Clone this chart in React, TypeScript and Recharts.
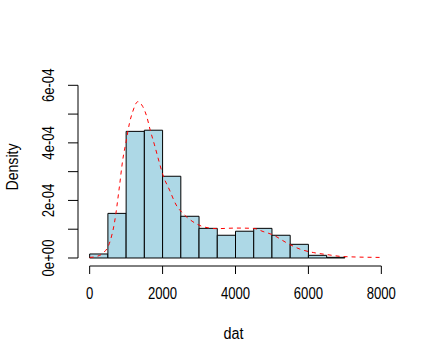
import {
  ComposedChart,
  Line,
  XAxis,
  YAxis,
  ReferenceArea,
  ReferenceLine,
} from "recharts";

// histogram bins (width 500) and their densities
const binStarts = [0, 500, 1000, 1500, 2000, 2500, 3000, 3500, 4000, 4500, 5000, 5500, 6000, 6500];
const binWidth = 500;
const binDensity = [
  1.4e-5, 1.55e-4, 4.4e-4, 4.44e-4, 2.84e-4, 1.45e-4, 1.03e-4, 0.79e-4, 0.93e-4, 1.03e-4,
  0.79e-4, 0.475e-4, 0.093e-4, 0.023e-4,
];

// kernel density estimate
const densX = [
  0, 174, 357, 541, 678, 816, 907, 999, 1091, 1182, 1320, 1457, 1567, 1659, 1778, 1916, 2007,
  2191, 2374, 2557, 2832, 3107, 3474, 4024, 4482, 4757, 5032, 5399, 5765, 6132, 6499, 6957, 7965,
];
const densY = [
  0.02e-4, 0.05e-4, 0.16e-4, 0.51e-4, 1.21e-4, 2.48e-4, 3.41e-4, 4.04e-4, 4.68e-4, 5.09e-4,
  5.43e-4, 5.26e-4, 4.91e-4, 4.45e-4, 3.93e-4, 3.29e-4, 2.89e-4, 2.36e-4, 1.84e-4, 1.55e-4,
  1.26e-4, 1.09e-4, 1.02e-4, 1.04e-4, 1.03e-4, 0.92e-4, 0.8e-4, 0.53e-4, 0.31e-4, 0.19e-4,
  0.12e-4, 0.05e-4, 0.02e-4,
];

const xTicks = [0, 2000, 4000, 6000, 8000];
const yTicks = [0, 1e-4, 2e-4, 3e-4, 4e-4, 5e-4, 6e-4];
const yTickLabels = ["0e+00", "", "2e-04", "", "4e-04", "", "6e-04"];

const X_DOMAIN: [number, number] = [-320, 8320];
const Y_DOMAIN: [number, number] = [-0.278e-4, 6.254e-4];

const FONT = "'Liberation Sans', Arial, sans-serif";
const FS = 16;

// the reference uses a narrow font; squeeze Liberation Sans to its width
const charW: Record<string, number> = { "+": 0.584, "-": 0.333 };
const narrowLen = (s: string) =>
  s.split("").reduce((w, c) => w + (charW[c] ?? 0.556), 0) * 0.82 * FS;

const curve = densX.map((x, i) => ({ x, y: densY[i] }));

const XTick = (props: any) => {
  const { x, y, payload } = props;
  const s = String(payload.value);
  return (
    <text
      x={x}
      y={y + 25}
      textAnchor="middle"
      fontFamily={FONT}
      fontSize={FS}
      fill="#000"
      textLength={narrowLen(s)}
      lengthAdjust="spacingAndGlyphs"
    >
      {s}
    </text>
  );
};

const YTick = (props: any) => {
  const { x, y, index } = props;
  const label = yTickLabels[index];
  if (!label) return null;
  const cx = x - 19;
  return (
    <text
      x={cx}
      y={y}
      transform={`rotate(-90, ${cx}, ${y})`}
      textAnchor="middle"
      dominantBaseline="central"
      fontFamily={FONT}
      fontSize={FS}
      fill="#000"
      textLength={narrowLen(label)}
      lengthAdjust="spacingAndGlyphs"
    >
      {label}
    </text>
  );
};

const XLabel = (props: any) => {
  const vb = props.viewBox;
  return (
    <text
      x={vb.x + vb.width / 2 - 2}
      y={vb.y + 73}
      textAnchor="middle"
      fontFamily={FONT}
      fontSize={FS}
      fill="#000"
      textLength={20}
      lengthAdjust="spacingAndGlyphs"
    >
      dat
    </text>
  );
};

const YLabel = (props: any) => {
  const vb = props.viewBox;
  const cx = vb.x + 12;
  const cy = vb.y + vb.height / 2 - 5;
  return (
    <text
      x={cx}
      y={cy}
      transform={`rotate(-90, ${cx}, ${cy})`}
      textAnchor="middle"
      dominantBaseline="central"
      fontFamily={FONT}
      fontSize={FS}
      fill="#000"
      textLength={47}
      lengthAdjust="spacingAndGlyphs"
    >
      Density
    </text>
  );
};

export default function App() {
  return (
    <div style={{ position: "absolute", left: 0, top: 0, width: 433, height: 363, background: "#fff" }}>
      <ComposedChart
        width={433}
        height={363}
        data={curve}
        margin={{ top: 78, right: 40, left: 0, bottom: 0 }}
      >
        <XAxis
          type="number"
          dataKey="x"
          domain={X_DOMAIN}
          ticks={xTicks}
          interval={0}
          allowDataOverflow
          axisLine={false}
          tickLine={{ stroke: "#000" }}
          tickSize={8}
          tickMargin={0}
          height={97}
          tick={<XTick />}
          label={{ content: <XLabel /> }}
        />
        <YAxis
          type="number"
          domain={Y_DOMAIN}
          ticks={yTicks}
          interval={0}
          allowDataOverflow
          axisLine={false}
          tickLine={{ stroke: "#000" }}
          tickSize={10}
          tickMargin={0}
          width={78}
          tick={<YTick />}
          label={{ content: <YLabel /> }}
        />
        {binStarts.map((start, i) => (
          <ReferenceArea
            key={`bin-${i}`}
            x1={start}
            x2={start + binWidth}
            y1={0}
            y2={binDensity[i]}
            fill="#ADD8E6"
            fillOpacity={1}
            stroke="#000"
            strokeWidth={1}
            ifOverflow="visible"
          />
        ))}
        <ReferenceLine
          segment={[
            { x: 0, y: Y_DOMAIN[0] },
            { x: 8000, y: Y_DOMAIN[0] },
          ]}
          stroke="#000"
          ifOverflow="visible"
        />
        <ReferenceLine
          segment={[
            { x: X_DOMAIN[0], y: 0 },
            { x: X_DOMAIN[0], y: 6e-4 },
          ]}
          stroke="#000"
          ifOverflow="visible"
        />
        <Line
          type="monotone"
          dataKey="y"
          stroke="#FF0000"
          strokeWidth={1}
          strokeDasharray="4 4"
          dot={false}
          activeDot={false}
          isAnimationActive={false}
        />
      </ComposedChart>
    </div>
  );
}
